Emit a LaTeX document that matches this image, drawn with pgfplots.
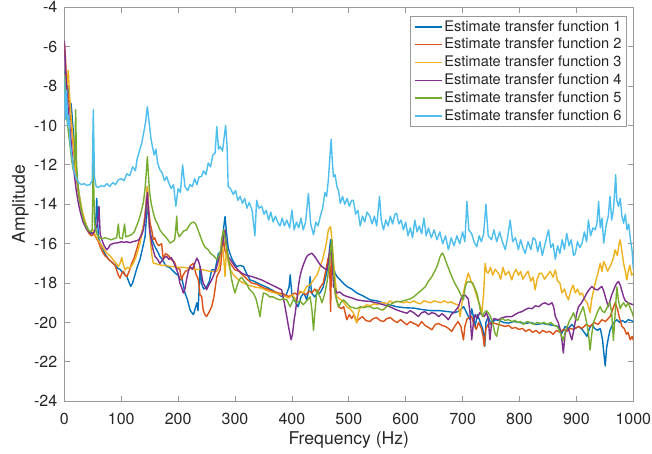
\documentclass[border=0pt]{standalone}
\usepackage{fontspec}
\setmainfont{TeX Gyre Heros}
\usepackage{pgfplots}
\usepackage{pgfplotstable}
\pgfplotsset{compat=1.18}
\definecolor{c1}{rgb}{0,0.447,0.741}
\definecolor{c2}{rgb}{0.850,0.325,0.098}
\definecolor{c3}{rgb}{0.929,0.694,0.125}
\definecolor{c4}{rgb}{0.494,0.184,0.556}
\definecolor{c5}{rgb}{0.466,0.674,0.188}
\definecolor{c6}{rgb}{0.301,0.745,0.933}

\pgfplotstableread{
x y
0 -7.8
2 -7.2
4 -8.5
6 -8.0
9 -8.8
12 -8.9
14 -9.6
17 -10.8
20 -11.8
23 -12.8
26 -13.5
30 -14.2
34 -14.7
38 -15.0
42 -15.3
46 -15.4
50 -15.5
54 -15.3
56 -14.5
57 -13.7
58.5 -14.8
60 -15.7
63 -15.97
67 -16.2
71 -16.5
74.5 -16.65
78 -16.8
82 -16.9
86 -17.0
90 -17.1
94 -17.25
98 -17.3
102 -17.45
106 -17.55
110 -17.67
113 -17.9
116.7 -18.17
120 -18.0
124 -17.6
128 -17.2
133 -16.8
137 -16.3
142 -15.64
144 -14.8
146 -13.7
148 -14.6
150 -15.3
153 -15.7
156.5 -15.97
160 -16.2
164 -16.4
168 -16.65
172 -16.8
176 -17.0
180 -17.16
185 -17.2
190 -17.35
195 -17.5
200 -17.6
203 -17.84
207 -17.8
212 -18.5
216 -18.8
221 -19.36
224 -19.5
227 -19.6
230 -19.3
233 -19.0
235 -19.4
237 -18.3
238.6 -17.16
241 -18.0
245 -18.3
250 -18.2
255 -17.9
259 -17.33
265 -17.33
271 -16.48
275 -16.6
278 -16.0
280 -15.2
282.5 -14.62
285 -15.4
288 -16.2
291 -16.48
295 -16.8
299 -17.0
303 -17.16
309 -17.1
315 -17.16
320 -17.5
326.5 -17.84
333 -17.9
340 -18.0
347 -18.1
355 -18.2
364.6 -18.34
373 -18.5
382 -18.68
390 -18.6
395 -18.2
397 -17.58
400 -18.6
405 -18.9
411 -19.2
416 -18.7
421 -18.5
426 -18.85
430 -18.3
432 -17.67
434.5 -18.5
440 -18.7
445 -18.5
449.5 -18.5
455 -18.2
461 -17.5
464 -17.0
466 -16.3
468 -15.8
470 -16.4
473 -17.2
476 -17.5
480 -17.7
485 -17.84
490 -18.0
496.5 -18.17
505 -18.3
514 -18.5
525 -18.65
537.5 -18.85
549 -18.9
561 -19.0
572 -19.1
584 -19.2
598 -19.25
614 -19.27
630 -19.35
645 -19.4
660 -19.4
675 -19.45
687 -19.5
695 -19.4
702 -19.2
707 -19.5
713 -19.86
716 -19.3
719 -19.7
722 -20.2
726 -19.6
730 -19.9
735 -20.3
737 -20.54
739 -21.2
741 -20.0
745 -19.7
750 -20.1
757 -19.86
765 -19.9
772 -20.0
780.6 -20.03
790 -19.95
800 -20.0
810 -20.05
820 -20.0
830 -20.1
840 -20.05
850 -20.1
860 -20.15
868 -20.2
874.5 -20.54
880 -20.2
886 -20.3
892 -20.1
898 -20.3
904 -20.2
910 -20.35
918.5 -20.7
923 -20.3
927 -20.1
932 -20.3
937 -20.4
942 -20.3
946 -20.88
948 -21.5
950.6 -22.2
953 -21.3
956 -20.8
959 -20.4
962 -20.2
966 -20.0
971 -19.86
976 -20.0
981 -19.9
986 -20.0
991 -19.86
996 -19.9
1000 -19.95
}\tA

\pgfplotstableread{
x y
0 -5.8
2 -6.5
4 -7.8
6 -8.3
9 -9.0
12 -9.8
15 -10.8
18 -11.7
21 -12.6
24 -13.3
28 -14.0
32 -14.6
36 -15.0
40 -15.3
44 -15.5
48 -15.6
52 -15.5
56 -15.7
60 -15.9
63 -16.15
67 -16.4
71 -16.6
75 -16.7
80 -16.85
86 -17.0
89 -17.1
92 -17.33
95 -17.6
98 -17.75
101 -17.5
104 -17.4
107 -17.6
110 -17.67
114 -17.4
118.5 -17.0
123 -16.7
127 -16.31
131 -15.9
136 -15.47
140 -15.0
143 -14.2
146 -13.1
148.5 -14.3
151 -15.0
153.6 -15.3
156.5 -15.8
159 -15.7
162.4 -15.97
166 -16.1
171 -16.0
174 -16.8
178 -16.5
183 -16.6
188 -16.8
193 -16.9
197.6 -17.24
203 -17.3
206 -17.84
209 -17.58
213 -17.4
218 -17.33
222 -17.1
227 -17.0
231 -17.5
235.6 -17.84
238.6 -18.6
241.5 -18.68
244 -19.36
247 -19.6
250 -19.7
254 -19.5
259 -19.2
263 -18.7
268 -17.67
271 -17.5
274 -17.33
277 -16.5
279.6 -15.64
282 -16.3
285 -16.6
288 -16.82
294 -17.1
300 -17.33
307 -17.4
314 -17.6
321 -17.8
329.5 -18.0
338 -18.05
347 -18.2
356 -18.3
366 -18.4
376 -18.5
385 -18.55
394 -18.68
400 -18.6
405 -18.5
410 -18.6
415 -18.45
420 -18.5
425 -18.6
430 -18.4
435 -18.5
440 -18.3
445 -18.5
450 -18.2
455 -18.0
460 -17.3
463 -16.82
466 -16.5
468 -19.44
470 -16.4
473 -17.5
476 -18.5
479 -18.9
482 -19.2
487 -19.3
491 -19.2
496.5 -19.86
501 -19.6
505 -19.8
509 -19.6
514 -19.95
519 -19.8
524 -19.7
530 -19.9
537 -19.95
543 -19.8
549 -19.75
555 -19.9
561 -19.95
567 -19.8
573 -19.75
579 -19.9
585 -20.0
591 -19.85
597 -20.0
602 -20.12
608 -19.95
614 -20.05
619 -20.1
622 -20.2
628 -19.95
634 -20.15
640 -20.25
646 -20.37
652 -20.1
658 -20.05
664 -20.15
670 -20.2
675 -20.3
681 -20.45
686 -20.2
692 -19.95
697 -20.2
701.5 -20.88
704 -20.2
708 -19.8
712 -19.75
716 -19.7
720 -20.1
724 -20.35
728 -20.0
733 -20.3
736 -20.7
738 -21.2
741 -20.3
745 -20.1
751 -20.0
757 -20.05
763 -20.1
769 -20.15
775 -20.2
781 -20.15
787 -20.3
793 -20.25
799 -20.35
805 -20.3
811 -20.45
817 -20.35
823 -20.5
829 -20.4
835 -20.55
841 -20.4
847 -20.5
853 -20.45
859 -20.6
865 -20.4
871 -20.5
877 -20.35
883 -20.45
889 -20.3
895 -20.35
903.6 -20.2
910 -20.3
917 -20.1
924 -20.2
931 -20.0
938 -20.1
944.8 -19.86
951 -19.95
959 -19.7
963 -19.4
968 -19.0
972 -19.3
976 -19.8
980 -20.2
984 -20.3
988 -20.6
991 -20.5
994.6 -20.88
998 -20.7
1000 -20.9
}\tB

\pgfplotstableread{
x y
0 -7.4
2 -7.8
3.5 -7.5
5 -7.9
7 -7.2
9 -8.3
12 -9.6
15 -10.6
18 -11.6
21 -12.4
24 -13.1
28 -13.8
32 -14.4
36 -14.8
40 -15.2
45 -15.4
50 -15.3
55 -15.6
59 -15.8
63 -15.97
68 -16.2
74.5 -16.48
80 -16.6
86 -16.82
90 -16.95
95 -17.16
98 -17.0
101 -16.7
104 -17.1
107 -17.33
111 -17.2
115 -17.25
119 -17.1
124 -16.82
128 -16.5
133 -15.97
137 -15.4
142 -14.6
146 -13.1
148 -14.5
151 -15.8
154 -16.6
156.5 -17.0
159.5 -17.0
165 -17.05
172 -17.1
179 -17.1
186 -17.16
192 -17.16
200 -17.2
210 -17.2
220 -17.25
230 -17.3
238.6 -17.3
248 -17.35
255 -17.4
262 -17.42
268 -17.4
272 -17.2
276.7 -15.8
279.6 -16.5
282.5 -17.67
285 -16.2
288 -16.9
291 -17.3
298 -17.6
306 -17.84
315 -18.0
323.5 -18.1
335 -18.2
347 -18.26
358 -18.4
370 -18.5
382 -18.6
394 -18.76
401 -18.6
407 -18.85
414 -18.4
420 -18.5
426 -18.17
432 -18.1
438 -17.84
444 -17.6
449.5 -17.16
454 -16.8
458 -16.31
461 -15.9
464 -15.3
468 -15.13
471 -16.0
474 -17.2
479 -18.68
484 -18.8
489 -18.9
496.5 -19.2
502 -19.3
508 -19.5
511 -19.8
514 -20.03
517 -19.5
520 -19.25
526 -19.2
532 -19.1
538 -19.15
544 -19.05
550 -19.1
556 -19.0
561 -19.0
567 -19.05
573 -18.9
578 -19.0
584 -18.93
590 -18.95
596 -19.0
602 -18.95
608 -19.0
614 -18.9
620 -19.0
626 -19.05
632 -18.9
638 -18.95
644 -19.0
650 -18.9
656 -18.95
662 -19.0
668 -18.9
674 -19.0
680 -18.95
686 -19.05
692 -19.1
695.7 -19.7
699 -19.0
701.5 -18.5
705 -18.0
710 -17.5
715 -17.9
720 -18.2
725 -18.68
730 -19.1
734 -19.5
737 -18.5
739.6 -17.0
742 -17.4
745 -17.5
749 -17.2
753 -17.6
757 -17.3
763 -17.5
767 -17.8
771 -17.2
775 -17.6
781 -17.4
786.5 -17.84
790 -17.5
794 -17.3
798 -17.6
802 -17.4
806 -17.8
810 -17.6
815 -17.4
820 -17.9
824 -17.7
827.5 -18.34
831 -17.8
835 -17.5
839 -17.5
844 -17.8
849 -17.6
854 -17.4
859 -17.7
863 -17.33
867 -17.9
871 -18.0
874.5 -18.5
879 -18.3
882 -18.6
886 -18.85
890 -18.4
894 -18.1
898 -18.5
902 -18.3
906 -18.6
910 -18.5
915 -18.85
919 -19.0
922 -19.3
924 -19.5
927 -18.8
930 -18.4
933 -18.0
937 -17.6
941.8 -17.0
945 -17.4
948 -16.9
951 -17.1
955 -17.4
959 -17.16
963 -16.9
966 -16.6
968 -16.31
972 -16.6
975 -16.0
977 -15.8
980 -16.4
983 -17.0
986 -17.4
988.7 -17.84
991 -17.4
994 -17.1
997 -17.6
1000 -17.5
}\tC

\pgfplotstableread{
x y
0 -5.7
1 -6.2
2 -7.0
4 -8.0
6 -8.9
9 -9.8
12 -10.8
15 -11.8
18 -12.6
21 -13.3
25 -14.0
29 -14.5
33 -14.9
38 -15.2
43 -15.4
48 -15.5
53 -15.4
57 -15.1
59 -14.8
61 -14.1
63 -15.5
66 -15.8
70 -16.1
74.5 -16.31
78 -16.2
80.5 -16.06
85 -16.0
89 -15.97
95 -15.95
100 -15.9
104 -15.93
110 -15.9
115 -15.95
121 -15.89
127 -15.85
131 -15.8
135 -15.6
139 -15.3
142 -14.7
144 -14.0
146 -13.4
148 -14.3
150.5 -15.4
153.6 -15.97
156 -16.3
159.5 -16.65
164 -16.8
168 -17.0
172 -16.85
176 -16.7
180 -16.65
184 -16.8
188 -16.7
193 -17.0
197.6 -17.33
201 -17.6
203 -18.0
206 -18.2
209 -18.5
212 -18.3
215 -17.8
218 -17.4
221 -17.16
225 -17.3
228 -17.1
233 -16.73
236 -16.9
239 -17.2
244 -18.0
247.4 -18.17
250 -18.34
254 -18.1
259 -17.84
264 -17.5
268 -17.16
272 -16.7
276.7 -16.15
279.6 -15.8
282.5 -15.3
285 -16.1
288 -16.65
294 -16.9
300 -17.16
306 -17.35
312 -17.5
320 -17.6
329.5 -17.67
338 -17.75
347 -17.84
358 -18.0
370 -18.17
382 -18.34
388 -19.2
394 -20.2
398.6 -20.88
401 -20.6
404 -19.86
406 -19.5
409 -18.8
411.4 -18.17
414 -17.7
417 -17.33
421 -17.0
426 -16.65
430 -16.55
435 -16.48
440 -16.65
444 -16.82
448 -17.0
452.5 -17.16
457 -17.25
461 -17.33
464 -17.0
467 -16.3
469 -16.0
471 -16.8
473 -18.17
476 -18.3
479 -18.5
484 -18.45
490 -18.6
496.5 -18.68
505 -18.75
514 -18.85
525 -18.9
537.5 -18.93
549 -19.0
561 -19.1
572 -19.2
584 -19.36
593 -19.45
602 -19.53
608 -19.4
614 -19.5
622 -19.7
628 -19.5
634 -19.45
640 -19.6
646 -19.5
652 -19.55
658 -19.7
664 -19.55
670 -19.7
675 -19.86
680 -19.6
686 -19.45
692.7 -19.2
698.6 -18.68
704 -18.6
710 -18.8
713 -19.5
716 -20.88
719 -20.0
722 -19.6
726 -19.8
730 -19.5
734 -19.6
738 -19.7
742 -19.5
745 -19.8
748 -20.88
751 -20.0
755 -19.8
763 -19.86
770 -19.75
778 -19.7
786.5 -19.7
792 -19.6
798 -19.5
804 -19.45
810 -19.35
816 -19.27
822 -19.3
828 -19.15
834 -19.2
840 -19.05
845 -19.0
851 -19.1
857 -19.0
860 -19.2
863 -19.7
868 -20.0
872 -20.4
875 -21.0
877 -21.55
880 -20.6
884 -20.2
888 -20.5
892 -20.88
896 -20.3
900 -19.6
903.6 -19.2
908 -19.05
913 -18.8
918.5 -18.5
922 -18.35
927 -18.17
932 -18.3
937 -18.35
941 -18.25
944.8 -18.17
948 -18.4
950.6 -18.68
953 -18.9
956 -19.2
959 -18.9
962 -18.6
968 -18.17
971 -18.0
974 -17.92
977 -18.1
980 -18.4
983 -18.7
986 -18.9
991 -19.0
995 -19.05
1000 -19.1
}\tD

\pgfplotstableread{
x y
0 -7.5
2 -8.5
4 -9.5
7 -10.3
10 -11.0
13 -11.8
16 -12.3
18.5 -11.5
20 -9.2
21.5 -11.8
23 -12.8
26 -13.6
30 -14.3
34 -14.8
38 -15.1
42 -15.3
46 -15.4
49 -15.3
50 -13.5
51 -11.6
52 -13.5
53.5 -15.0
57 -15.5
62 -15.7
67 -15.75
72 -15.7
77 -15.75
82 -15.8
87 -15.75
92 -15.7
95 -15.0
97 -15.7
102 -15.75
106 -15.0
108 -15.65
113 -15.6
118 -15.55
123 -15.4
127 -15.1
131 -14.8
135 -14.4
139 -13.9
142 -13.2
144 -12.4
146 -11.58
148 -12.6
150 -13.4
153 -14.0
156.5 -14.45
160 -14.8
164 -15.0
168 -15.3
173 -15.5
178 -15.65
182 -15.8
186 -15.97
190 -15.9
194 -15.8
196 -15.2
197.6 -14.6
199 -15.4
202 -15.65
206 -15.5
210 -15.35
215 -15.3
219 -15.1
223 -14.95
227 -14.9
231 -15.0
235 -15.3
240 -15.7
244 -16.0
248 -16.2
253 -16.3
257 -16.5
262 -16.6
268 -16.8
272 -16.6
275 -16.3
277 -15.7
279.6 -15.3
282 -15.6
285 -16.15
288 -16.7
291 -17.2
294 -17.8
297 -18.2
300 -18.5
304 -18.1
308 -17.8
312 -17.7
316 -17.9
320 -18.0
325 -18.3
332 -18.5
337 -18.8
341 -19.3
344 -19.7
347 -19.0
350 -18.5
355 -18.55
361 -18.7
367 -18.7
373 -18.8
379 -18.85
385 -18.8
391 -18.85
397 -19.2
403 -18.8
408 -19.0
414 -18.9
420 -19.1
426 -18.9
432 -18.7
435 -19.3
438 -20.4
440 -19.6
444 -18.34
449.5 -18.7
453 -19.0
458 -18.5
462 -17.9
466 -17.0
468 -16.3
470 -15.8
472 -16.8
474 -17.7
476 -18.5
479 -18.9
482 -19.2
486 -19.0
490.5 -18.85
496 -19.0
502 -19.2
508 -19.25
514 -19.3
520 -19.2
526 -19.25
532 -19.2
537.5 -19.2
544 -19.3
550 -19.25
556 -19.35
560.5 -19.36
566 -19.2
572 -19.1
578 -19.0
584 -18.93
590 -18.95
596 -18.9
602 -18.85
608 -18.8
614 -18.7
622 -18.5
628 -18.35
634 -18.2
640 -17.9
646 -17.67
651 -17.4
655 -17.16
658 -16.9
660.5 -16.65
662.5 -16.55
664.6 -16.48
667 -16.6
670 -16.85
672 -17.0
676 -17.3
681 -17.67
686 -18.0
690 -18.2
692.7 -18.34
697 -18.6
701.5 -18.85
704.5 -18.2
707 -18.0
710 -17.92
714 -17.95
718 -18.0
722 -18.3
725 -18.5
728 -18.9
731 -19.36
735 -19.7
738 -19.5
742 -19.4
745 -19.5
749 -19.7
752.5 -20.0
755 -20.3
757.5 -20.6
760 -20.7
763 -20.2
766 -19.86
770 -19.8
775 -19.9
780 -19.85
786.5 -19.95
792 -19.9
797 -20.0
802 -19.95
807 -20.1
813 -19.95
819 -20.0
825 -20.1
831 -20.0
837 -20.05
843 -20.0
849 -20.1
855 -20.0
861 -20.15
866 -20.2
870 -20.4
874 -20.7
877 -20.9
880 -20.5
884 -20.2
888 -19.9
892 -19.7
895 -19.5
898 -19.8
902 -19.9
906 -19.6
909 -19.4
912 -19.2
915 -19.6
918 -20.0
921 -20.5
924 -21.4
927 -20.6
930 -20.0
934 -19.7
938 -19.4
941.8 -19.2
945 -19.4
949 -19.5
953 -19.3
956 -19.1
959 -19.0
962 -19.5
965 -20.9
968 -19.6
971 -18.2
974 -18.9
977 -19.3
980 -19.1
983 -19.0
987 -19.2
991 -19.0
995 -19.3
998 -19.5
1000 -19.7
}\tE

\pgfplotstableread{
x y
0 -7.5
2 -9.7
4 -8.2
6 -10.0
8 -9.5
10 -10.8
13 -11.5
16 -12.2
20 -12.6
25 -12.9
30 -13.0
35 -12.95
40 -13.05
45 -13.0
49 -12.8
51 -9.2
53 -12.6
56 -13.1
60 -13.15
65 -13.05
70 -13.1
75 -12.95
80 -13.1
85 -12.9
90 -13.0
95 -12.75
100 -12.7
105 -12.8
110 -12.45
115 -12.55
120 -12.1
125 -12.3
128 -11.7
132 -11.3
136 -10.9
140 -10.3
143 -9.8
146 -9.05
149 -9.8
152 -10.6
155 -11.1
158 -11.5
161 -11.2
164 -11.9
168 -12.25
172 -12.4
176 -12.8
180 -12.6
184 -12.95
188 -13.2
192 -13.0
196 -14.1
200 -13.2
204 -13.4
208 -12.0
212 -13.1
217 -13.3
221 -13.0
225 -13.1
229 -12.7
233 -13.0
237 -12.6
241 -12.6
245 -12.3
249 -12.5
253 -11.9
257 -12.1
261 -11.5
265 -11.4
268 -10.06
271 -11.2
274 -11.07
278 -11.3
281 -10.6
283.5 -10.0
286 -11.0
288 -13.1
292 -13.2
297 -13.5
301 -13.3
305 -13.8
309 -13.6
313 -13.95
317 -13.7
321 -14.2
325 -13.9
330 -14.3
335 -15.6
338 -13.8
342 -14.2
347 -14.1
351 -14.5
355 -14.3
359 -14.8
363 -14.4
367 -14.9
371 -14.6
375 -14.9
379 -15.1
383 -14.7
387 -15.1
391 -14.8
396 -15.2
400 -14.3
404 -15.3
408 -14.9
412 -15.2
416 -14.7
420 -15.3
424 -14.9
429 -13.45
433 -15.0
438 -15.55
442 -14.9
446 -15.1
450 -14.6
454 -14.2
458 -13.4
461 -13.6
464 -12.8
467 -11.5
469 -10.7
471 -11.8
473 -12.6
476 -12.5
479 -13.1
482 -13.3
485 -13.95
489 -13.6
493 -14.0
497 -13.7
501 -14.1
505 -13.8
508 -13.8
512 -14.5
516 -14.3
520 -15.1
524 -14.6
528 -14.9
532 -14.4
537 -14.6
541 -15.0
545 -14.6
549 -15.1
554 -13.6
557 -14.8
561 -15.3
565 -14.8
569 -15.1
573 -14.6
577 -15.0
581 -14.5
584 -14.45
588 -15.0
592 -14.8
596 -15.3
600 -14.9
604 -15.6
608 -15.2
612 -15.7
616 -14.8
620 -15.4
624 -15.1
628 -15.5
632 -14.7
636 -15.6
640 -15.2
645 -15.7
650 -15.3
655 -15.8
660 -15.4
665 -16.0
670 -15.6
675 -16.3
680 -15.7
685 -16.1
690 -15.6
695 -16.0
700 -15.4
704 -15.9
707.5 -13.86
711 -15.3
716 -15.5
720 -15.9
725 -16.15
729 -15.6
733 -15.9
737 -15.5
741 -14.0
745 -15.6
751 -15.8
755 -15.3
760 -15.9
765 -15.4
770 -15.9
775 -16.3
779 -15.7
783.6 -14.8
788 -15.9
793 -15.7
798 -16.3
802 -15.8
806 -16.2
810 -16.5
815 -15.9
820 -16.3
824 -15.7
828 -15.8
832 -16.4
836 -15.9
840 -16.6
845 -16.0
851 -15.3
855 -16.2
859 -16.0
863 -16.8
867 -16.1
871 -16.5
875 -15.8
879 -16.3
883 -15.47
887 -16.1
891 -15.8
895 -16.6
898 -16.5
902 -15.9
906 -16.2
910 -15.97
914 -15.4
918 -15.9
921 -14.8
925 -15.6
929 -15.2
933 -15.3
936 -15.0
939 -13.86
942 -15.2
945 -14.7
948 -15.97
952 -15.1
956 -14.6
959 -13.6
962 -14.8
965 -14.3
967 -13.5
969 -12.5
971 -13.8
974 -14.1
977 -13.7
980 -14.6
983 -14.96
986 -14.5
989 -15.3
992 -15.0
995 -15.8
998 -16.4
1000 -17.3
}\tF

\begin{document}
\begin{tikzpicture}
\begin{axis}[
  scale only axis,
  width=284.5pt, height=197pt,
  xmin=0, xmax=1000, ymin=-24, ymax=-4,
  xtick={0,100,...,1000},
  ytick={-24,-22,...,-4},
  /pgf/number format/assume math mode=true,
  /pgf/number format/1000 sep={},
  tick label style={font=\fontsize{8}{9.6}\selectfont, text=black!85},
  xticklabel style={yshift=-2.5pt},
  tick align=inside,
  major tick length=2.8pt,
  axis line style={black!40, line width=0.4pt},
  tick style={black!40, line width=0.4pt},
  xlabel={Frequency (Hz)},
  ylabel={Amplitude},
  label style={font=\fontsize{8.8}{10}\selectfont, text=black!85},
  xlabel style={at={(axis description cs:0.5,-0.0977)}, anchor=center},
  ylabel style={at={(axis description cs:-0.0773,0.5)}, anchor=center, rotate=0},
  legend style={at={(0.989,0.9787)}, anchor=north east, draw=black!40,
    line width=0.4pt, fill=white, font=\fontsize{7.3}{8}\selectfont,
    inner xsep=2pt, inner ysep=1pt, row sep=0pt,
    nodes={inner sep=0.6pt, text height=5.9pt, text depth=1.8pt, text=black!85},
    cells={anchor=west}},
  legend image code/.code={\draw[#1, line width=0.7pt] (0pt,0pt) -- (13.5pt,0pt);},
  every axis plot/.append style={line width=0.7pt, line join=round},
]
\addplot[c1] table[x=x,y=y] {\tA};
\addlegendentry{Estimate transfer function 1}
\addplot[c2] table[x=x,y=y] {\tB};
\addlegendentry{Estimate transfer function 2}
\addplot[c3] table[x=x,y=y] {\tC};
\addlegendentry{Estimate transfer function 3}
\addplot[c4] table[x=x,y=y] {\tD};
\addlegendentry{Estimate transfer function 4}
\addplot[c5] table[x=x,y=y] {\tE};
\addlegendentry{Estimate transfer function 5}
\addplot[c6] table[x=x,y=y] {\tF};
\addlegendentry{Estimate transfer function 6}
\coordinate (SW) at (rel axis cs:0,0);
\coordinate (NE) at (rel axis cs:1,1);
\end{axis}
\pgfresetboundingbox
\path[use as bounding box] ([xshift=-32.15pt,yshift=-26.25pt]SW) rectangle ([xshift=9.35pt,yshift=3.65pt]NE);
\end{tikzpicture}
\end{document}
